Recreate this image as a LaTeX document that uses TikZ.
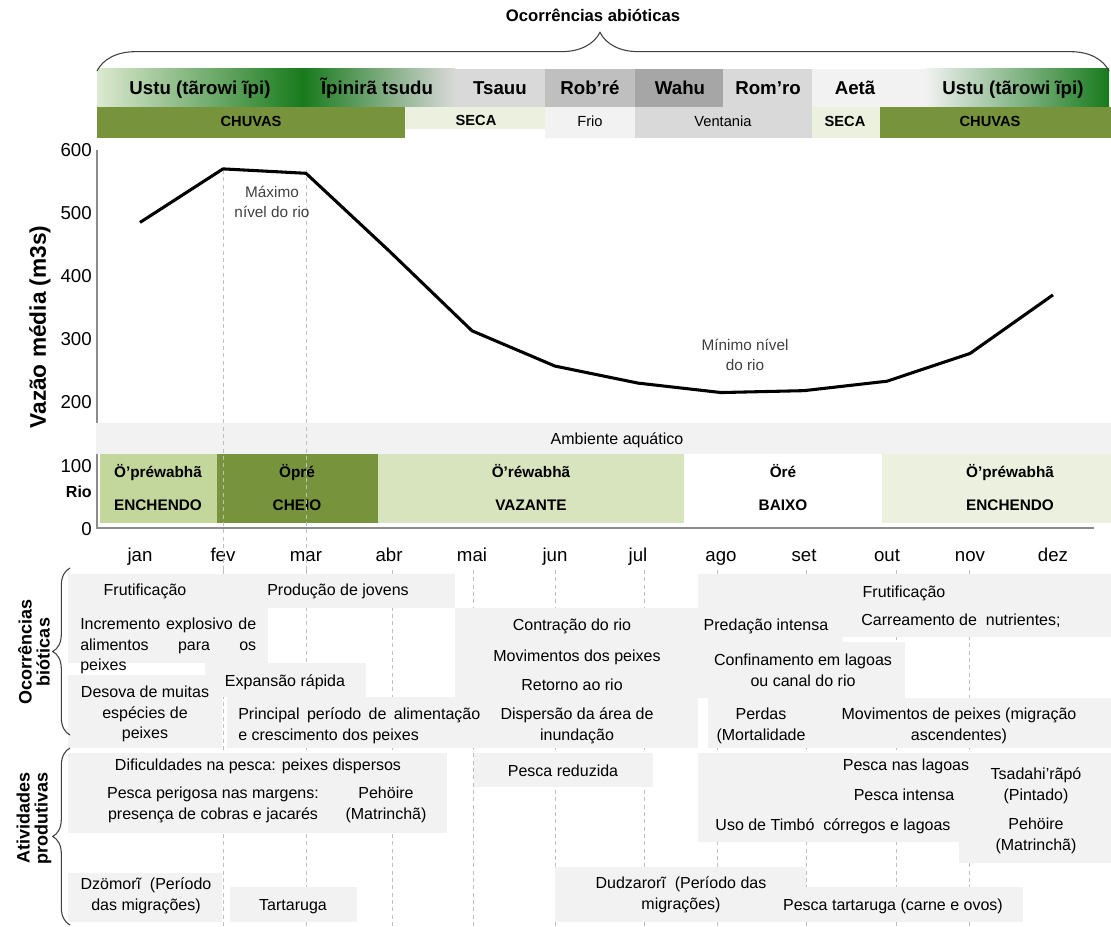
\documentclass[tikz,border=0pt]{standalone}
\usepackage{fontspec}
\setmainfont{Liberation Sans}
\usetikzlibrary{decorations.pathreplacing}

\definecolor{olive}{HTML}{77933C}
\definecolor{leaf}{HTML}{C3D69B}
\definecolor{pale}{HTML}{D7E4BD}
\definecolor{mist}{HTML}{EBF1DE}
\definecolor{forest}{HTML}{187A1C}
\definecolor{sprout}{HTML}{DDE9D0}
\definecolor{boxgray}{HTML}{F2F2F2}
\definecolor{grayD9}{HTML}{D9D9D9}
\definecolor{grayBF}{HTML}{BFBFBF}
\definecolor{grayA6}{HTML}{A6A6A6}
\definecolor{axisgray}{HTML}{8C8C8C}
\definecolor{inkgray}{HTML}{404040}

\newcommand{\boxfont}{\fontsize{12}{15.5}\selectfont}
\newcommand{\headfont}{\bfseries\fontsize{14}{16}\selectfont}
\newcommand{\bandfont}{\fontsize{11}{13}\selectfont}
\newcommand{\phasefont}{\bfseries\fontsize{11.5}{13}\selectfont}
\newcommand{\tickfont}{\fontsize{14}{16}\selectfont}
\newcommand{\notefont}{\fontsize{11.5}{15}\selectfont}
\newcommand{\sidefont}{\bfseries\fontsize{13.5}{13.5}\selectfont}

\tikzset{
  note/.style={font=\boxfont, align=center, inner sep=0pt},
  onbase/.style={anchor=base},
  head/.style={font=\headfont, inner sep=0pt, anchor=base},
  band/.style={font=\bandfont, inner sep=0pt, anchor=base},
  bandbold/.style={font=\bandfont\bfseries, inner sep=0pt, anchor=base},
  phase/.style={font=\phasefont, inner sep=0pt, anchor=base},
  tick/.style={font=\tickfont, inner sep=0pt},
  side/.style={font=\sidefont, align=center, inner sep=0pt, rotate=90},
  gridline/.style={draw=grayBF, dash pattern=on 3pt off 2.5pt, line width=0.6pt},
  bracket/.style={draw=inkgray, line width=0.8pt, decorate},
  flow/.style={line width=2.3pt, line join=round},
}

\begin{document}
\begin{tikzpicture}[x=0.75pt, y=-0.75pt]
\useasboundingbox (0,0) rectangle (1111,927);

% Abiotic bands
\shade[left color=sprout, right color=forest] (97,69) rectangle (303,107);
\shade[left color=forest, right color=grayD9] (303,69) rectangle (455,107);
\fill[grayD9] (455,69) rectangle (545,107);
\fill[grayBF] (545,69) rectangle (635,107);
\fill[grayA6] (635,69) rectangle (723,107);
\fill[grayD9] (723,69) rectangle (812,107);
\fill[boxgray] (812,69) rectangle (925,107);
\shade[left color=boxgray, right color=forest] (925,69) rectangle (1109,107);

\fill[olive] (97,107) rectangle (405,138);
\fill[mist] (405,107) rectangle (545,129);
\fill[boxgray] (545,107) rectangle (635,138);
\fill[grayD9] (635,107) rectangle (812,138);
\fill[mist] (812,107) rectangle (880,138);
\fill[olive] (880,107) rectangle (1111,138);

\draw[bracket, decoration={brace, amplitude=29pt, aspect=0.497}] (97,71) -- (1109,71);
\node[head, font=\bfseries\fontsize{12.5}{14}\selectfont] (abio) at (593,22) {Ocorrências abióticas};

\node[head] (ustuA) at (200,95) {Ustu (tãrowi ĩpi)};
\node[head] (ipin) at (377,95) {Ĩpinirã tsudu};
\node[head] (tsauu) at (500,95) {Tsauu};
\node[head] (robre) at (590,95) {Rob’ré};
\node[head] (wahu) at (680,95) {Wahu};
\node[head] (romro) at (768,95) {Rom’ro};
\node[head] (aeta) at (855,95) {Aetã};
\node[head] (ustuB) at (1013,95) {Ustu (tãrowi ĩpi)};

\node[bandbold] (chuvasA) at (251,127) {CHUVAS};
\node[bandbold] (secaA) at (476,126) {SECA};
\node[band] (frio) at (590,127) {Frio};
\node[band] (vent) at (723,127) {Ventania};
\node[bandbold] (secaB) at (845,127) {SECA};
\node[bandbold] (chuvasB) at (990,127) {CHUVAS};

% Axes
\draw[axisgray, line width=1pt] (97,150) -- (97,528) -- (1094,528);
\foreach \v in {0,100,...,600}
  \node[tick, anchor=base east] (y\v) at (92,535-0.63*\v) {\v};
\node[phase, font=\bfseries\fontsize{12}{14}\selectfont, anchor=base east] (rio) at (92,497) {Rio};
\node[side, font=\bfseries\fontsize{17}{19}\selectfont] (vazao) at (40,327) {Vazão média (m3s)};

\foreach \m [count=\i from 0] in {jan,fev,mar,abr,mai,jun,jul,ago,set,out,nov,dez}
  \node[tick, onbase] (m\i) at (140+83*\i,561) {\m};

% River level bands
\fill[boxgray] (96,423) rectangle (1111,454);
\fill[leaf] (100,454) rectangle (217,523);
\fill[olive] (217,454) rectangle (378,523);
\fill[pale] (378,454) rectangle (684,523);
\fill[mist] (882,454) rectangle (1111,523);

\node[note, onbase] (amb) at (617,445) {Ambiente aquático};
\node[phase] (p1a) at (158,477.5) {Ö’préwabhã};
\node[phase] (p1b) at (158,510.5) {ENCHENDO};
\node[phase] (p2a) at (297,477.5) {Öpré};
\node[phase] (p2b) at (297,510.5) {CHEIO};
\node[phase] (p3a) at (531,477.5) {Ö’réwabhã};
\node[phase] (p3b) at (531,510.5) {VAZANTE};
\node[phase] (p4a) at (783,477.5) {Öré};
\node[phase] (p4b) at (783,510.5) {BAIXO};
\node[phase] (p5a) at (1010,477.5) {Ö’préwabhã};
\node[phase] (p5b) at (1010,510.5) {ENCHENDO};

% Flow curve
\foreach \gx in {223,306}
  \draw[gridline] (\gx,170) -- (\gx,570);
\begin{scope}[shift={(140,528)}, x=62.25pt, y=0.4725pt]
\draw[flow] plot coordinates {(0,485) (1,570) (2,563) (3,440) (4,313) (5,257)
  (6,230) (7,215) (8,218) (9,233) (10,277) (11,370)};
\end{scope}
\node[note, font=\notefont, text=inkgray] (maxim) at (272,202) {Máximo\\nível do rio};
\node[note, font=\notefont, text=inkgray] (minim) at (745,355) {Mínimo nível\\do rio};

% Lower grid
\foreach \gx in {223,306,392,473,555,644,717,806,896,969}
  \draw[gridline] (\gx,570) -- (\gx,927);

% Biotic boxes
\fill[boxgray] (68,574) rectangle (455,608);
\fill[boxgray] (68,608) rectangle (268,663);
\fill[boxgray] (205,663) rectangle (366,697);
\fill[boxgray] (68,675) rectangle (222,748);
\fill[boxgray] (227,697) rectangle (455,748);
\fill[boxgray] (455,608) rectangle (698,748);
\fill[boxgray] (698,574) rectangle (1111,608);
\fill[boxgray] (698,608) rectangle (843,642);
\fill[boxgray] (843,608) rectangle (1111,637);
\fill[boxgray] (698,642) rectangle (905,698);
\fill[boxgray] (708,698) rectangle (1111,748);

\draw[bracket, decoration={brace, amplitude=13pt}] (70,735) -- (70,568);
\node[side] (bio) at (34,652) {Ocorrências\\bióticas};

\node[note, onbase] (fruA) at (145,595) {Frutificação};
\node[note, onbase] (prod) at (338,595) {Produção de jovens};
\node[note, align=left, anchor=west] (incr) at (80,646)
  {\makebox[132pt][s]{Incremento explosivo de}\\\makebox[132pt][s]{alimentos para os}\\peixes};
\node[note, onbase] (expa) at (285,686) {Expansão rápida};
\node[note] (deso) at (145,714) {Desova de muitas\\espécies de\\peixes};
\node[note, align=left, anchor=west] (prin) at (238,726)
  {\makebox[181.5pt][s]{Principal período de alimentação}\\e crescimento dos peixes};
\node[note, onbase] (cont) at (572,630) {Contração do rio};
\node[note, onbase] (movA) at (577,661) {Movimentos dos peixes};
\node[note, onbase] (reto) at (572,690) {Retorno ao rio};
\node[note] (disp) at (577,726) {Dispersão da área de\\inundação};
\node[note, onbase] (fruB) at (904,597) {Frutificação};
\node[note, onbase] (pred) at (766,630) {Predação intensa};
\node[note, onbase] (carr) at (961,625) {Carreamento de\ \ nutrientes;};
\node[note] (conf) at (803,670) {Confinamento em lagoas\\ou canal do rio};
\node[note] (perd) at (761,726) {Perdas\\(Mortalidade};
\node[note] (movB) at (959,726) {Movimentos de peixes (migração\\ascendentes)};

% Productive boxes
\fill[boxgray] (68,753) rectangle (447,833);
\fill[boxgray] (474,753) rectangle (653,787);
\fill[boxgray] (698,753) rectangle (959,842);
\fill[boxgray] (959,753) rectangle (1111,863);
\fill[boxgray] (68,873) rectangle (222,922);
\fill[boxgray] (230,887) rectangle (357,922);
\fill[boxgray] (555,867) rectangle (806,922);
\fill[boxgray] (806,887) rectangle (1023,922);

\draw[bracket, decoration={brace, amplitude=13pt}] (70,925) -- (70,748);
\node[side] (ativ) at (34,818) {Atividades\\produtivas};

\node[note, onbase] (difi) at (258,770) {Dificuldades na pesca: peixes dispersos};
\node[note] (peri) at (213,805) {Pesca perigosa nas margens:\\presença de cobras e jacarés};
\node[note] (pehA) at (386,805) {Pehöire\\(Matrinchã)};
\node[note, onbase] (redu) at (563,776) {Pesca reduzida};
\node[note, onbase] (lago) at (906,770) {Pesca nas lagoas};
\node[note, onbase] (inte) at (904,800) {Pesca intensa};
\node[note, onbase] (timb) at (833,830) {Uso de Timbó\ \ córregos e lagoas};
\node[note] (tsad) at (1036,786) {Tsadahi’rãpó\\(Pintado)};
\node[note] (pehB) at (1036,836) {Pehöire\\(Matrinchã)};
\node[note] (dzom) at (146,896) {Dzömorĩ\ \ (Período\\das migrações)};
\node[note, onbase] (tart) at (293,910) {Tartaruga};
\node[note] (dudz) at (681,895) {Dudzarorĩ\ \ (Período das\\migrações)};
\node[note, onbase] (ptar) at (893,910) {Pesca tartaruga (carne e ovos)};
\end{tikzpicture}
\end{document}
